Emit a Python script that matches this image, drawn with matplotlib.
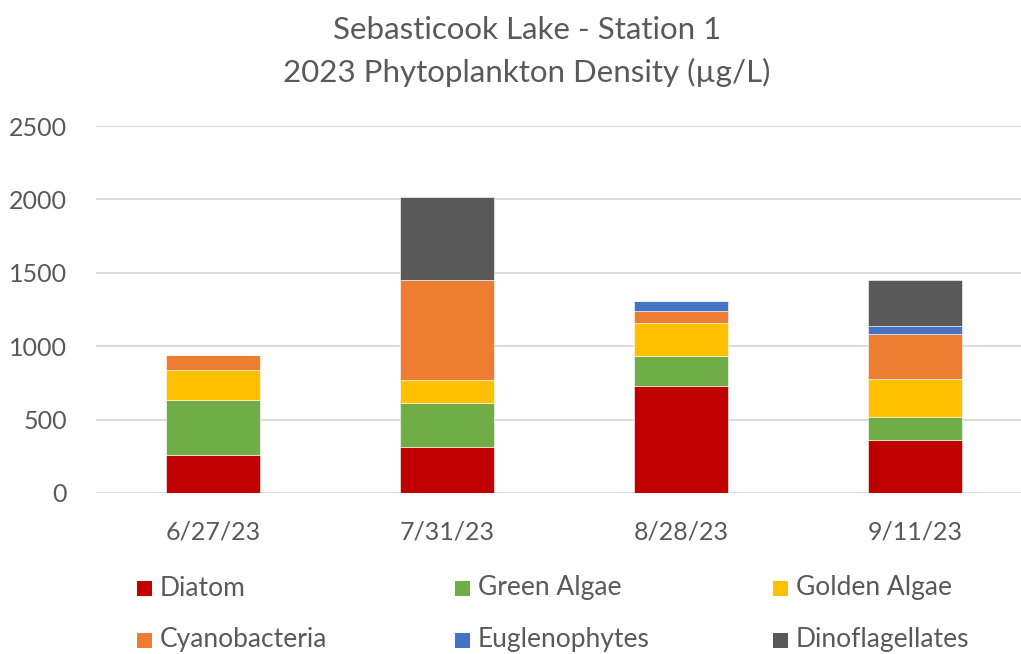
import matplotlib.pyplot as plt
from matplotlib.patches import Rectangle
import numpy as np

# sampling dates and algal group densities (ug/L)
dates = ["6/27/23", "7/31/23", "8/28/23", "9/11/23"]
groups = ["Diatom", "Green Algae", "Golden Algae",
          "Cyanobacteria", "Euglenophytes", "Dinoflagellates"]
diatom = [259, 313, 727, 361]
green_algae = [374, 298, 204, 159]
golden_algae = [207, 161, 229, 254]
cyanobacteria = [102, 677, 81, 307]
euglenophytes = [0, 0, 69, 56]
dinoflagellates = [0, 569, 0, 312]

colors = ["#C00000", "#70AD47", "#FFC000", "#ED7D31", "#4472C4", "#595959"]
txt = "#595959"
font = "Lato"

W, H = 1021, 654
fig = plt.figure(figsize=(W / 100, H / 100), dpi=100)
plt.rcParams['font.family'] = [font, 'DejaVu Sans']

# plot area in pixels
left, right, bottom, top = 96, 1021, 493, 126
ax = fig.add_axes([left / W, 1 - bottom / H, (right - left) / W, (bottom - top) / H])

series = [diatom, green_algae, golden_algae, cyanobacteria, euglenophytes, dinoflagellates]
x = np.arange(len(dates))
base = np.zeros(len(dates))
for vals, c in zip(series, colors):
    vals = np.array(vals, dtype=float)
    ax.bar(x, vals, 0.4, bottom=base, color=c, edgecolor="white", linewidth=0.4, zorder=3)
    base += vals

step = 234  # pixel spacing between categories
ax.set_xlim(-0.5, -0.5 + (right - left) / step)
ax.set_ylim(0, 2500)
ax.set_yticks(range(0, 2501, 500))
ax.set_xticks(x)
ax.set_xticklabels(dates)
ax.yaxis.grid(True, color="#D9D9D9", linewidth=1.3, zorder=0)
for s in ax.spines.values():
    s.set_visible(False)
ax.tick_params(length=0, labelsize=18, colors=txt)
ax.tick_params(axis="y", pad=21)
ax.tick_params(axis="x", pad=20)

fig.text(527 / W, 1 - 30 / H, "Sebasticook Lake - Station 1", ha="center", va="center",
         fontsize=22.5, color=txt)
fig.text(527 / W, 1 - 72 / H, "2023 Phytoplankton Density (\u00b5g/L)", ha="center", va="center",
         fontsize=22.5, color=txt)

# legend, three columns by two rows
col_x = [137, 455, 773]
row_y = [588, 640]
sq = 15
for i, (name, c) in enumerate(zip(groups, colors)):
    cx, cy = col_x[i % 3], row_y[i // 3]
    fig.patches.append(Rectangle((cx / W, 1 - (cy + sq / 2) / H), sq / W, sq / H,
                                 transform=fig.transFigure, facecolor=c, edgecolor="none"))
    fig.text((cx + sq + 8) / W, 1 - cy / H, name, ha="left", va="center",
             fontsize=19, color=txt)

fig.savefig("out.png", dpi=100, facecolor="white")
